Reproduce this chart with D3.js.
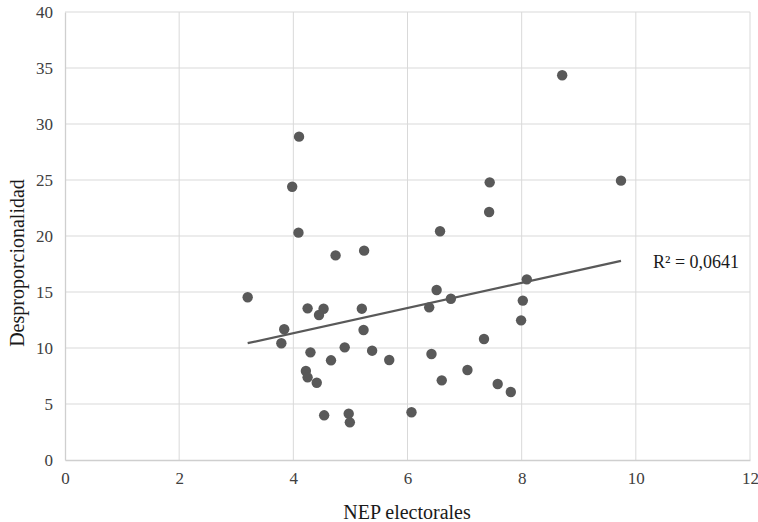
<!DOCTYPE html>
<html>
<head>
<meta charset="utf-8">
<script src="https://cdn.jsdelivr.net/npm/d3@7/dist/d3.min.js"></script>
<style>
  html, body { margin: 0; padding: 0; background: #fff; }
  svg { display: block; }
</style>
</head>
<body>
<svg id="chart" width="758" height="522"></svg>
<script>
const nepValues = [3.20, 4.25, 4.53, 4.45, 3.84, 3.79, 4.30, 4.90, 4.66, 5.38, 4.22, 4.25, 4.41, 4.54, 4.97, 4.99, 5.20, 5.23,
  4.10, 3.98, 4.09, 4.74, 5.24,
  8.71, 9.74, 7.44, 7.43, 6.57,
  8.09, 6.51, 6.76, 6.38, 8.02, 7.99, 7.34, 5.68, 6.42, 7.05, 6.60, 7.58, 7.81, 6.07];
const dispValues = [14.53, 13.54, 13.5, 12.95, 11.67, 10.42, 9.61, 10.06, 8.90, 9.76, 7.95, 7.38, 6.90, 3.99, 4.14, 3.36, 13.51, 11.61,
  28.87, 24.4, 20.3, 18.27, 18.69,
  34.35, 24.94, 24.79, 22.14, 20.42,
  16.13, 15.18, 14.4, 13.63, 14.23, 12.47, 10.80, 8.93, 9.46, 8.04, 7.11, 6.79, 6.07, 4.26];
const xTicks = [0, 2, 4, 6, 8, 10, 12];
const yTicks = [0, 5, 10, 15, 20, 25, 30, 35, 40];
const r2Label = "R² = 0,0641";
const xTitle = "NEP electorales";
const yTitle = "Desproporcionalidad";

const svg = d3.select("#chart");
const mLeft = 65, mRight = 750, mTop = 12, mBottom = 460;
const x = d3.scaleLinear().domain([0, 12]).range([mLeft, mRight]);
const y = d3.scaleLinear().domain([0, 40]).range([mBottom, mTop]);
const font = "'Liberation Serif', 'Times New Roman', serif";

// grid
svg.append("g").selectAll("line").data(xTicks.slice(1)).join("line")
  .attr("x1", d => x(d)).attr("x2", d => x(d)).attr("y1", mTop).attr("y2", mBottom)
  .attr("stroke", "#d9d9d9").attr("stroke-width", 1);
svg.append("g").selectAll("line").data(yTicks.slice(1)).join("line")
  .attr("x1", mLeft).attr("x2", mRight).attr("y1", d => y(d)).attr("y2", d => y(d))
  .attr("stroke", "#d9d9d9").attr("stroke-width", 1);

// axes
const xAxis = svg.append("g").attr("transform", `translate(0,${mBottom})`)
  .call(d3.axisBottom(x).tickValues(xTicks).tickSize(0).tickPadding(12));
const yAxis = svg.append("g").attr("transform", `translate(${mLeft},0)`)
  .call(d3.axisLeft(y).tickValues(yTicks).tickSize(0).tickPadding(12));
[xAxis, yAxis].forEach(g => {
  g.select(".domain").attr("stroke", "#cfcfcf").attr("stroke-width", 1.3);
  g.selectAll("text").attr("font-family", font).attr("font-size", 17).attr("fill", "#404040");
});

// regression
const n = nepValues.length;
const mx = d3.mean(nepValues), my = d3.mean(dispValues);
let sxy = 0, sxx = 0;
for (let i = 0; i < n; i++) { sxy += (nepValues[i]-mx)*(dispValues[i]-my); sxx += (nepValues[i]-mx)**2; }
const slope = sxy / sxx, intercept = my - slope * mx;
const [xmin, xmax] = d3.extent(nepValues);
svg.append("line")
  .attr("x1", x(xmin)).attr("y1", y(intercept + slope*xmin))
  .attr("x2", x(xmax)).attr("y2", y(intercept + slope*xmax))
  .attr("stroke", "#595959").attr("stroke-width", 2.2);

// points
svg.append("g").selectAll("circle").data(nepValues.map((v, i) => [v, dispValues[i]])).join("circle")
  .attr("cx", d => x(d[0])).attr("cy", d => y(d[1])).attr("r", 5.2)
  .attr("fill", "#595959");

// labels
svg.append("text").attr("x", 653).attr("y", 268).text(r2Label)
  .attr("font-family", font).attr("font-size", 18).attr("fill", "#1a1a1a");
svg.append("text").attr("x", 407).attr("y", 519).attr("text-anchor", "middle")
  .text(xTitle).attr("font-family", font).attr("font-size", 20).attr("fill", "#1a1a1a");
svg.append("text").attr("transform", `translate(24,263) rotate(-90)`)
  .attr("text-anchor", "middle").text(yTitle)
  .attr("font-family", font).attr("font-size", 20).attr("fill", "#1a1a1a");
</script>
</body>
</html>
